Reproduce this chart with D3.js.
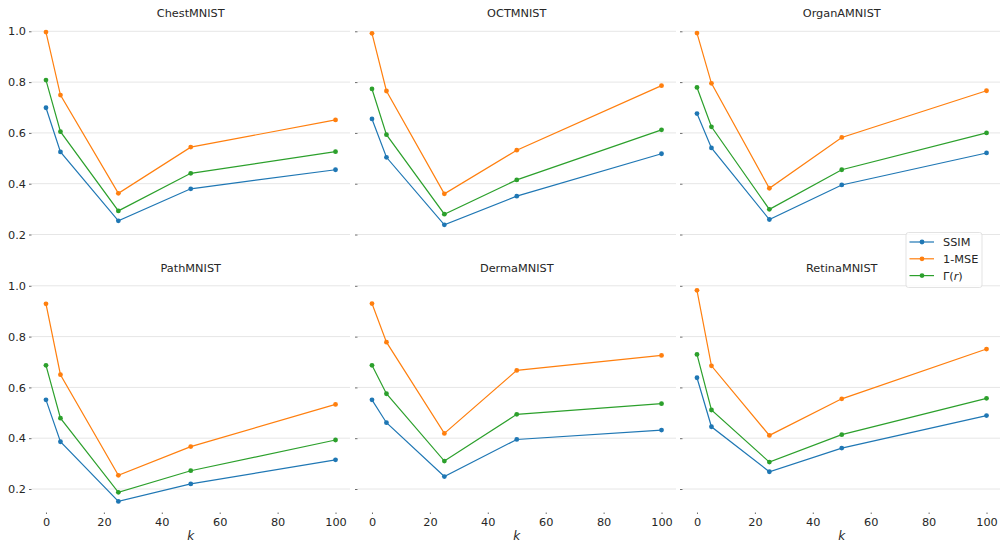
<!DOCTYPE html>
<html>
<head>
<meta charset="utf-8">
<script src="https://cdn.jsdelivr.net/npm/d3@7"></script>
<style>
  body { margin: 0; background: #fff; }
  svg { font-family: "DejaVu Sans", sans-serif; }
</style>
</head>
<body>
<div id="chart"></div>
<script>
// Data
const kValues = [0, 5, 25, 50, 100];
const datasetNames = ["ChestMNIST", "OCTMNIST", "OrganAMNIST", "PathMNIST", "DermaMNIST", "RetinaMNIST"];
const ssimValues = [
    [0.699, 0.525, 0.254, 0.380, 0.455],
    [0.655, 0.504, 0.238, 0.351, 0.518],
    [0.676, 0.541, 0.259, 0.395, 0.521],
    [0.551, 0.386, 0.151, 0.220, 0.315],
    [0.551, 0.461, 0.249, 0.395, 0.432],
    [0.638, 0.445, 0.268, 0.361, 0.489]
];
const mseValues = [
    [0.997, 0.749, 0.362, 0.544, 0.651],
    [0.992, 0.765, 0.360, 0.532, 0.786],
    [0.993, 0.795, 0.382, 0.582, 0.766],
    [0.929, 0.650, 0.254, 0.367, 0.533],
    [0.930, 0.778, 0.419, 0.667, 0.726],
    [0.982, 0.685, 0.411, 0.555, 0.751]
];
const gammaValues = [
    [0.808, 0.605, 0.293, 0.441, 0.526],
    [0.773, 0.593, 0.280, 0.415, 0.612],
    [0.779, 0.624, 0.299, 0.455, 0.600],
    [0.687, 0.479, 0.187, 0.272, 0.393],
    [0.687, 0.575, 0.310, 0.494, 0.536],
    [0.730, 0.511, 0.306, 0.414, 0.557]
];
const xTicks = [0, 20, 40, 60, 80, 100];
const yTicks = [0.2, 0.4, 0.6, 0.8, 1.0];

const series = [
    { name: "SSIM", values: ssimValues, color: "#1f77b4" },
    { name: "1-MSE", values: mseValues, color: "#ff7f0e" },
    { name: "gamma", values: gammaValues, color: "#2ca02c" }
];

const width = 1000, height = 542;
const fontSize = 11.3;

// Panel layout
const colLeft = [31.5, 357.5, 682.5];
const panelWidth = 318.5;
const rowTop = [20.5, 275];
const panelHeight = 237.5;

const svg = d3.select("#chart").append("svg")
    .attr("width", width)
    .attr("height", height);

const xDomain = [-5, 105];
const yDomain = [0.1075, 1.0425];

datasetNames.forEach((name, i) => {
    const row = Math.floor(i / 3), col = i % 3;
    const x = d3.scaleLinear().domain(xDomain).range([0, panelWidth]);
    const y = d3.scaleLinear().domain(yDomain).range([panelHeight, 0]);

    const g = svg.append("g")
        .attr("transform", `translate(${colLeft[col]},${rowTop[row]})`);

    // horizontal grid
    g.selectAll(".grid")
        .data(yTicks)
        .join("line")
        .attr("x1", 0).attr("x2", panelWidth)
        .attr("y1", d => y(d)).attr("y2", d => y(d))
        .attr("stroke", "#e6e6e6")
        .attr("stroke-width", 1);

    // y axis (ticks on every panel, labels only in first column)
    const yAxis = d3.axisLeft(y).tickValues(yTicks)
        .tickSize(2.5).tickPadding(3)
        .tickFormat(col === 0 ? d3.format(".1f") : "");
    const ya = g.append("g").call(yAxis);
    ya.select(".domain").remove();
    ya.selectAll(".tick line").attr("stroke", "#444").attr("stroke-width", 0.8);
    ya.selectAll(".tick text").attr("fill", "#262626").style("font-size", fontSize + "px")
        .style("font-family", "DejaVu Sans");

    // x axis (labels only on bottom row)
    if (row === 1) {
        const xAxis = d3.axisBottom(x).tickValues(xTicks)
            .tickSize(1.5).tickPadding(4);
        const xa = g.append("g").attr("transform", `translate(0,${panelHeight})`).call(xAxis);
        xa.select(".domain").remove();
        xa.selectAll(".tick line").attr("stroke", "#444").attr("stroke-width", 0.8);
        xa.selectAll(".tick text").attr("fill", "#262626").style("font-size", fontSize + "px")
            .style("font-family", "DejaVu Sans");

        g.append("text")
            .attr("x", panelWidth / 2)
            .attr("y", panelHeight + 27)
            .attr("text-anchor", "middle")
            .attr("fill", "#262626")
            .style("font-size", "12px")
            .style("font-style", "italic")
            .text("k");
    }

    // title
    g.append("text")
        .attr("x", panelWidth / 2)
        .attr("y", -3.5)
        .attr("text-anchor", "middle")
        .attr("fill", "#262626")
        .style("font-size", fontSize + "px")
        .text(name);

    const line = d3.line().x(d => x(d[0])).y(d => y(d[1]));

    series.forEach(s => {
        const pts = kValues.map((k, j) => [k, s.values[i][j]]);
        g.append("path")
            .datum(pts)
            .attr("d", line)
            .attr("fill", "none")
            .attr("stroke", s.color)
            .attr("stroke-width", 1.2);
        g.selectAll(null)
            .data(pts)
            .join("circle")
            .attr("cx", d => x(d[0]))
            .attr("cy", d => y(d[1]))
            .attr("r", 2.4)
            .attr("fill", s.color);
    });
});

// Legend
const legend = svg.append("g").attr("transform", "translate(906,232.5)");
legend.append("rect")
    .attr("width", 76).attr("height", 55)
    .attr("rx", 2.5)
    .attr("fill", "#fff").attr("fill-opacity", 0.8)
    .attr("stroke", "#dcdcdc").attr("stroke-width", 0.8);

series.forEach((s, i) => {
    const ly = 9.5 + i * 16.8;
    legend.append("line")
        .attr("x1", 3.5).attr("x2", 28)
        .attr("y1", ly).attr("y2", ly)
        .attr("stroke", s.color).attr("stroke-width", 1.2);
    legend.append("circle")
        .attr("cx", 16).attr("cy", ly).attr("r", 2.4).attr("fill", s.color);
    const t = legend.append("text")
        .attr("x", 37)
        .attr("y", ly + 4)
        .attr("fill", "#262626")
        .style("font-size", fontSize + "px");
    if (s.name === "gamma") {
        t.append("tspan").text("Γ(");
        t.append("tspan").style("font-style", "italic").text("r");
        t.append("tspan").text(")");
    } else {
        t.text(s.name);
    }
});
</script>
</body>
</html>
